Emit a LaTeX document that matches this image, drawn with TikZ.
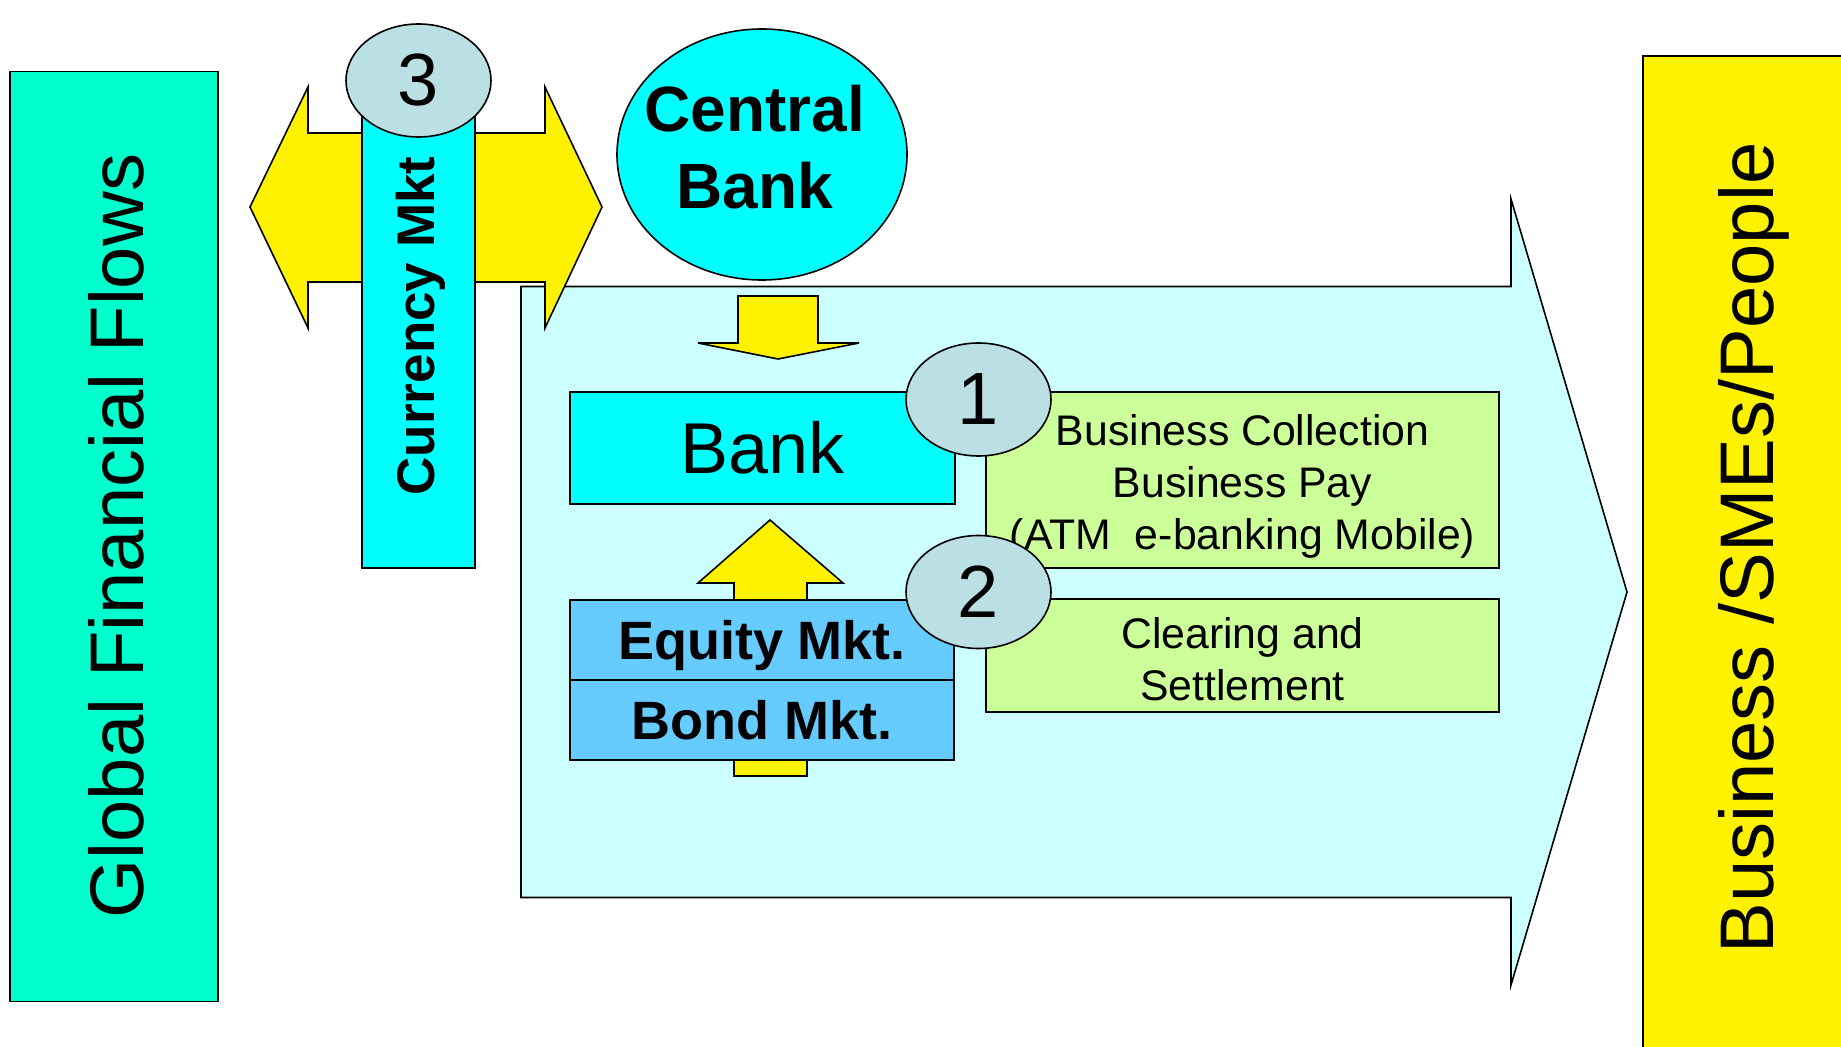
\documentclass[tikz,border=0pt]{standalone}
\usepackage{fontspec}
\setmainfont{Liberation Sans}
\usetikzlibrary{shapes.geometric}

\definecolor{flowgreen}{RGB}{0,255,204}
\definecolor{bankcyan}{RGB}{0,255,255}
\definecolor{palecyan}{RGB}{204,255,255}
\definecolor{mktblue}{RGB}{102,204,255}
\definecolor{paygreen}{RGB}{204,255,153}
\definecolor{badgegray}{RGB}{187,224,227}

\tikzset{every picture/.style={line width=0.8pt}}
\tikzset{
	box/.style={draw, rectangle, inner sep=0pt},
	badge/.style={draw, ellipse, fill=badgegray, inner sep=0pt, minimum width=72.5pt, minimum height=56.5pt, font=\fontsize{37}{44}\selectfont},
	blockarrow/.style={draw, fill=yellow, line join=miter},
	sidetext/.style={rotate=90, font=\fontsize{38}{46}\selectfont},
	mkttext/.style={box, fill=mktblue, minimum width=192pt, minimum height=40pt, text depth=0pt, font=\bfseries\fontsize{27}{32}\selectfont},
	servtext/.style={align=center, font=\fontsize{21.4}{26}\selectfont}
}

\begin{document}
\begin{tikzpicture}[x=0.5pt,y=0.5pt,yscale=-1,xscale=1]
	\useasboundingbox (0,0) rectangle (1841,1047);
	\clip (0,0) rectangle (1841,1047);

	%Shape: Rectangle (left side)
	\node (gff) [box, fill=flowgreen, minimum width=104pt, minimum height=465pt] at (114,536.5) {};
	%Shape: Rectangle (right side)
	\node (bsp) [box, fill=yellow, anchor=north west, minimum width=110pt, minimum height=505pt] at (1642,55) {};

	%Shape: Right Arrow (big)
	\draw [fill=palecyan] (521,286.5) -- (1511,286.5) -- (1511,199) -- (1627,592) -- (1511,985) -- (1511,897.5) -- (521,897.5) -- cycle ;
	%Shape: Left Right Arrow
	\draw [blockarrow] (250,207) -- (308,87) -- (308,133) -- (545,133) -- (545,87) -- (602,207) -- (545,328) -- (545,282) -- (308,282) -- (308,328) -- cycle ;

	%Shape: Rectangle (currency)
	\node (cmkt) [box, fill=bankcyan, minimum width=56.5pt, minimum height=229pt] at (418.5,339) {};
	% Text Node
	\node (cmkttext) [rotate=90, font=\bfseries\fontsize{26.5}{32}\selectfont] at (421,326) {Currency Mkt};
	%Shape: Ellipse
	\node (n3) [badge] at (418.5,80.5) {3};

	%Shape: Ellipse (central bank)
	\node (cb) [draw, ellipse, fill=bankcyan, minimum width=145pt, minimum height=125.5pt] at (762,154.5) {};
	% Text Node
	\node (cbtext) [align=center, font=\bfseries\fontsize{32}{38.5}\selectfont] at (755,147) {Central\\Bank};

	%Shape: Down Arrow
	\draw [blockarrow] (738,296) -- (818,296) -- (818,343) -- (859,343) -- (778,359) -- (698,343) -- (738,343) -- cycle ;

	%Shape: Rectangle (bank)
	\node (bank) [box, fill=bankcyan, minimum width=192.5pt, minimum height=56pt, font=\fontsize{36}{43}\selectfont] at (762.5,448) {Bank};

	%Shape: Up Arrow
	\draw [blockarrow] (734,776) -- (734,583) -- (698,583) -- (770,520) -- (843,583) -- (807,583) -- (807,776) -- cycle ;

	%Shape: Rectangle (markets)
	\node (eq) [mkttext] at (762,640) {Equity Mkt.};
	\node (bond) [mkttext] at (762,720) {Bond Mkt.};

	%Shape: Rectangle (services)
	\node (pay) [box, fill=paygreen, minimum width=256.5pt, minimum height=88pt] at (1242.5,480) {};
	\node (clr) [box, fill=paygreen, minimum width=256.5pt, minimum height=56.5pt] at (1242.5,655.5) {};
	% Text Node
	\node (paytext) [servtext] at (1242.5,486) {Business Collection\\Business Pay\\(ATM~~e-banking Mobile)};
	% Text Node
	\node (clrtext) [servtext] at (1242.5,659) {Clearing and\\Settlement};

	%Shape: Ellipse
	\node (n1) [badge] at (978.5,399.5) {1};
	%Shape: Ellipse
	\node (n2) [badge] at (978.5,592) {2};

	% Text Node
	\node (gfftext) [sidetext] at (116,536) {Global Financial Flows};
	% Text Node
	\node (bsptext) [sidetext] at (1754,548) {Business /SMEs/People};

\end{tikzpicture}
\end{document}
